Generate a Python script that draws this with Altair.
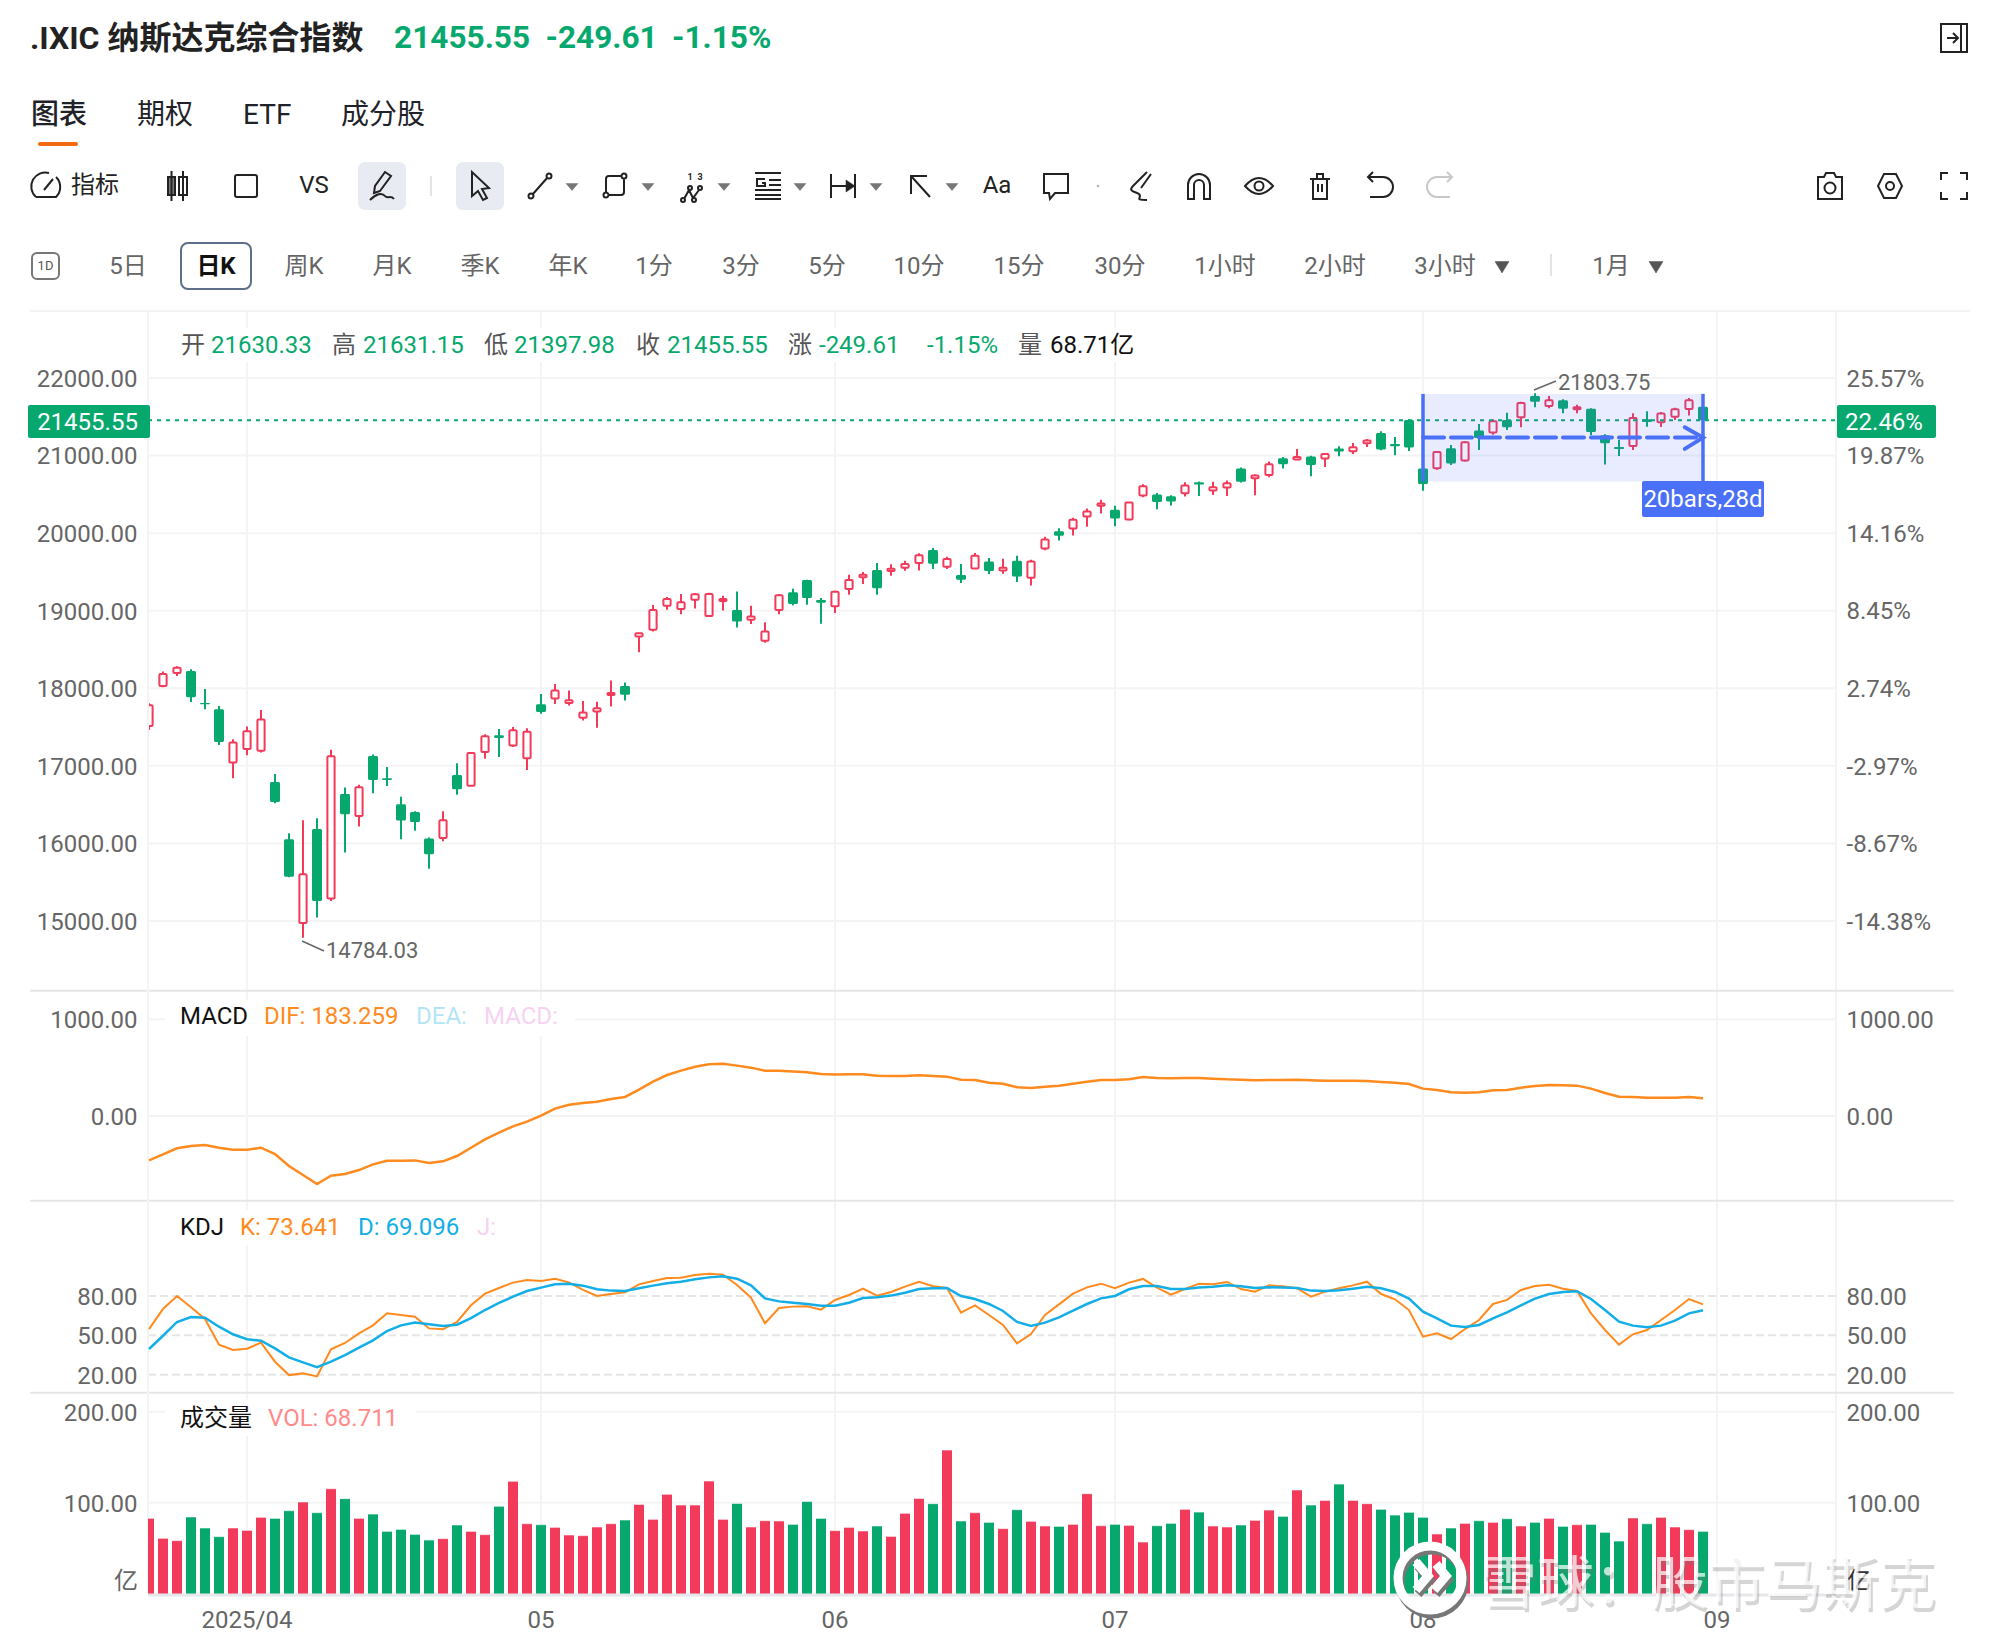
import altair as alt
import pandas as pd

# ---------- values ----------
opens = [17514,18030,18198,18223,17811,17729,17042,17218,17196,16793,16053,14975,16187,15289,16638,16354,
 17128,16840,16505,16406,16062,16071,16883,16745,17179,17394,17261,17098,17794,17867,17811,17620,
 17701,17912,18028,18669,18755,19065,19022,19142,18931,19125,19009,18884,18613,19009,19237,19396,
 19138,19056,19280,19430,19525,19512,19555,19615,19783,19568,19459,19545,19635,19520,19644,19425,
 19803,20026,20060,20215,20352,20300,20176,20485,20498,20476,20515,20656,20549,20588,20832,20708,
 20751,20965,20948,20987,20961,21090,21055,21158,21291,21150,21459,20833,20837,21094,20936,21322,
 21296,21459,21493,21768,21639,21712,21596,21605,21262,21112,21124,21468,21429,21502,21601,21630.33]
closes = [17781,18185,18266,17884,17794,17308,17300,17446,17596,16535,15572,15602,15258,17123,16376,16724,
 16818,16818,16294,16277,15860,16298,16698,17166,17381,17360,17459,17441,17695,17970,17845,17689,
 17744,17938,17916,18708,19009,19150,19108,19211,19215,19150,18862,18927,18733,19198,19086,19163,
 19103,19245,19396,19464,19288,19542,19602,19714,19606,19667,19399,19708,19511,19554,19442,19635,
 19918,19966,20172,20279,20382,20189,20395,20605,20403,20408,20613,20626,20592,20643,20661,20742,
 20888,20888,20982,20879,21021,21051,21107,21193,21077,21120,21103,20635,21047,20897,21172,21227,
 21442,21365,21678,21695,21712,21605,21622,21305,21159,21086,21485,21433,21541,21596,21712,21455.55]
highs = [17807,18215,18284,18245,17991,17772,17343,17506,17721,16896,16131,16298,16324,17209,16720,16758,
 17145,16986,16603,16414,16075,16414,17033,17175,17407,17476,17501,17484,17927,18056,17970,17835,
 17826,18101,18075,18712,19073,19176,19215,19224,19232,19194,19249,19065,18850,19211,19284,19400,
 19163,19258,19464,19499,19615,19598,19645,19740,19808,19697,19601,19743,19678,19670,19708,19657,
 19953,20064,20197,20317,20429,20352,20399,20631,20519,20489,20656,20665,20661,20678,20845,20755,
 20922,20982,21085,20999,21034,21120,21163,21214,21313,21240,21468,20858,21056,21137,21184,21408,
 21468,21553,21695,21803.75,21768,21725,21656,21609,21275,21202,21545,21571,21562,21618,21742,21631.15]
lows = [17463,18013,18159,17824,17729,17270,16840,17136,17171,16518,15564,14784.03,15044,15258,15882,16217,
 16646,16741,16053,16165,15675,16028,16629,16737,17093,17115,17244,16947,17673,17798,17777,17585,
 17491,17766,17843,18463,18733,19013,18953,19030,18923,19004,18785,18828,18587,18953,19069,19077,
 18832,18970,19206,19344,19206,19452,19516,19520,19538,19538,19357,19537,19472,19477,19369,19326,
 19781,19906,19970,20082,20253,20090,20167,20463,20309,20356,20472,20480,20493,20480,20652,20489,
 20721,20832,20944,20734,20854,20991,21021,21111,21068,21004,21060,20545,20816,20880,20923,21073,
 21270,21330,21365,21622,21609,21545,21545,21262,20884,20996,21073,21373,21369,21459,21515,21397.98]
volumes = [83.0,61.1,58.5,84.5,72.4,62.9,72.4,69.8,84.1,83.0,91.4,100.9,89.2,115.5,104.6,83.0,
 87.7,68.7,70.9,65.4,59.2,60.7,75.7,68.7,65.1,96.2,123.6,77.1,76.0,73.1,64.7,64.0,
 73.5,77.1,81.2,98.3,81.9,109.3,97.6,97.6,123.9,81.9,99.4,73.5,80.4,80.1,76.4,101.6,
 83.0,69.5,73.1,69.1,74.6,63.2,88.5,104.9,99.1,157.9,80.1,89.2,78.6,71.7,92.5,79.7,
 74.6,74.2,76.4,110.0,74.9,76.4,75.3,57.0,74.9,77.5,92.9,89.9,74.6,73.5,75.7,80.8,
 92.1,85.2,114.1,97.6,102.7,120.6,102.7,99.1,92.9,86.6,89.6,84.1,65.8,72.4,77.5,80.4,
 78.6,82.6,74.6,78.6,83.0,74.2,76.0,76.4,67.6,58.1,83.4,77.1,84.1,73.5,70.6,68.711]
dif = [-459,-397,-334,-310,-300,-328,-348,-348,-328,-393,-517,-610,-703,-617,-600,-559,
 -500,-462,-462,-459,-486,-469,-414,-328,-241,-172,-107,-59,3,76,117,134,
 148,176,197,272,355,424,469,510,534,541,521,500,469,469,459,452,
 434,428,431,431,417,414,414,421,414,407,376,372,345,334,297,290,
 303,314,334,355,372,372,379,403,393,390,393,393,386,379,376,369,
 372,372,376,369,365,365,365,362,352,345,331,283,269,245,241,245,
 266,269,293,310,321,317,314,283,238,200,197,190,190,190,197,183.259]
k_line = [54.8,70.1,80,71.4,62.5,42.9,38.8,39.8,44.4,29.9,19.7,21.0,18.7,39.3,44.2,51.5,
 57.6,66.8,65.5,64.2,55.3,54.6,60.2,72.9,81.8,86.1,90.2,92.2,91.4,93.2,90.4,84.6,
 80.0,81.5,82.8,88.9,91.4,93.7,94.0,96.0,97.0,96.3,88.4,78.7,59.2,70.8,71.9,72.1,
 69.6,77.0,80.8,85.6,80.3,83.1,87.1,90.9,87.4,86.1,67.3,72.9,65.5,57.9,43.9,51.0,
 65.5,73.6,81.8,86.6,89.4,85.9,90.2,93.0,86.4,81.0,85.3,89.4,88.9,90.7,85.3,83.3,
 88.1,87.4,85.9,79.5,83.3,85.9,88.1,90.9,81.5,77.5,69.3,49.0,51.5,47.2,54.8,61.7,
 73.9,77.0,84.6,87.6,88.6,85.6,83.8,66.8,54.1,42.9,50.8,54.1,61.7,69.3,77.7,73.641]
d_line = [39.6,49.7,60.2,64.0,63.5,56.6,50.8,47.0,45.9,40.1,33.2,29.4,25.8,29.9,35.0,40.6,
 46.2,53.3,57.6,59.7,58.4,57.1,58.1,63.2,69.3,74.7,79.5,83.8,86.4,88.9,89.4,87.9,
 85.1,84.1,83.8,85.9,87.9,89.7,90.9,92.7,94.2,95.0,93.2,88.1,78.2,75.9,74.9,73.9,
 72.6,72.6,74.9,78.5,79.0,80.3,82.5,85.3,85.9,86.1,80.0,77.7,73.9,68.6,60.2,57.1,
 59.7,63.7,68.8,73.9,78.2,80.0,85.1,87.6,87.6,85.3,85.3,86.4,87.1,88.1,87.4,86.1,
 86.6,86.4,86.1,84.1,83.8,84.3,85.6,87.1,85.9,83.1,78.0,68.1,63.0,57.4,56.4,57.9,
 63.0,67.5,72.9,78.0,81.5,83.1,83.6,77.7,69.3,60.4,57.4,56.1,57.4,61.2,66.8,69.096]

price_ticks = [15000,16000,17000,18000,19000,20000,21000,22000]
pct_ticks = [-14.38,-8.67,-2.97,2.74,8.45,14.16,19.87,25.57]
macd_ticks = [0,1000]
kdj_ticks = [20,50,80]
vol_ticks = [100,200]
month_pos = [7,28,49,69,91,112]
month_labels = ["2025/04","05","06","07","08","09"]
last_price = 21455.55
box_price = [20665,21795]
box_bars = [91,111]
arrow_price = 21232
arrow_head_i = [109.7,111,109.7]
arrow_head_p = [21365,21232,21086]

tabs = ["图表","期权","ETF","成分股"]
periods = ["5日","周K","月K","季K","年K","1分","3分","5分","10分","15分","30分","1小时","2小时","3小时","1月"]
ohlc_names = ["开","高","低","收","涨","量"]
ohlc_vals = ["21630.33","21631.15","21397.98","21455.55","-249.61","-1.15%","68.71亿"]

# ---------- styles ----------
FONT = "Roboto, 'Noto Sans CJK SC', sans-serif"
RED, GREEN, BLUE = "#f23a5a", "#07a86e", "#4a70f7"
GRID = "#f4f4f5"
GRAY = "#666666"
ORANGE, SKY = "#ff8a1e", "#13aee6"
TEXT_DY = 1.3

def px(v): return v - 8

XS = alt.Scale(domain=[-1/14, 1687/14], range=[140, 1828], clamp=True, nice=False, zero=False)
def X(f, **k): return alt.X(f, type="quantitative", scale=XS, axis=k.pop("axis", None), **k)
def X2(f): return alt.X2(f)

def yscale(dom, pxlow, pxhigh):
    return alt.Scale(domain=dom, range=[px(pxlow), px(pxhigh)], nice=False, zero=False)
SP = yscale([15000,22000], 921, 378)
SPCT = yscale([-14.38,25.57], 921, 378)
SM = yscale([0,1000], 1116, 1019.3)
SK = yscale([20,80], 1374.7, 1296)
SV = yscale([0,200], 1594, 1411.7)

one = pd.DataFrame({"a":[0]})
df = pd.DataFrame(dict(i=list(range(len(opens))), o=opens, c=closes, h=highs, l=lows, v=volumes,
                       dif=dif, k=k_line, d=d_line))
df["up"] = df.c >= df.o
df["x0r"] = df.i - 3.6/14; df["x1r"] = df.i + 3.6/14
df["x0g"] = df.i - 5/14;   df["x1g"] = df.i + 5/14
up = df[df.up]; dn = df[~df.up]

layers = []

def T(s, x, y, size=24, color=GRAY, align="left", weight=400, opacity=1.0, bl="middle"):
    layers.append(alt.Chart(one).mark_text(text=s, font=FONT, fontSize=size, color=color, align=align,
        baseline=bl, fontWeight=weight, opacity=opacity).encode(x=alt.value(px(x)), y=alt.value(px(y + TEXT_DY))))

def R(x0, x1, y0, y1, fill="white", radius=0, stroke=None, sw=0, opacity=1.0):
    kw = dict(fill=fill, opacity=opacity)
    if radius: kw["cornerRadius"] = radius
    if stroke: kw.update(stroke=stroke, strokeWidth=sw)
    layers.append(alt.Chart(one).mark_rect(**kw).encode(x=alt.value(px(x0)), x2=alt.value(px(x1)),
        y=alt.value(px(y0)), y2=alt.value(px(y1))))

def L(x0, y0, x1, y1, color, w=2, dash=None):
    kw = dict(color=color, strokeWidth=w)
    if dash: kw["strokeDash"] = dash
    layers.append(alt.Chart(one).mark_rule(**kw).encode(x=alt.value(px(x0)), x2=alt.value(px(x1)),
        y=alt.value(px(y0)), y2=alt.value(px(y1))))

def ICON(path, x, y, color="#222222", fill=False, w=2):
    if fill:
        m = alt.Chart(one).mark_point(shape=path, size=4, filled=True, fill=color, stroke=color, strokeWidth=0.5, opacity=1)
    else:
        m = alt.Chart(one).mark_point(shape=path, size=4, filled=False, stroke=color, strokeWidth=w, opacity=1)
    layers.append(m.encode(x=alt.value(px(x)), y=alt.value(px(y))))

def circ(x, y, r):
    return f"M{x-r},{y} a{r},{r} 0 1,0 {2*r},0 a{r},{r} 0 1,0 {-2*r},0 "

# ---------- grid ----------
L(30, 311, 1970, 311, "#f3f3f3", 2)
months = pd.DataFrame({"i": month_pos, "label": month_labels})
layers.append(alt.Chart(months).mark_rule(color=GRID, strokeWidth=2).encode(
    x=X("i"), y=alt.value(px(311)), y2=alt.value(px(1593))))
layers.append(alt.Chart(months).mark_text(font=FONT, fontSize=24, color=GRAY, align="center", baseline="middle").encode(
    x=X("i"), y=alt.value(px(1621)), text=alt.Text("label:N")))
L(1836, 311, 1836, 1593, GRID, 2)

NUMF = "replace(format(datum.value,'.2f'),'\u2212','-')"
def axis(ticks, side, fmt=None):
    kw = dict(values=ticks, domain=False, ticks=False, grid=False, title=None, labelFont=FONT, labelFontSize=24,
              labelColor=GRAY, labelOverlap=False, labelBound=False, labelFlush=False, labelOffset=TEXT_DY)
    if side == "left":
        kw.update(orient="left", offset=-140, labelPadding=11)
    else:
        kw.update(orient="right", offset=-152, labelPadding=10)
    kw["labelExpr"] = fmt or NUMF
    return alt.Axis(**kw)

def hgrid(ticks, scale, dash=None, color=GRID, rticks=None, rscale=None, rfmt=None):
    kw = dict(color=color, strokeWidth=2)
    if dash: kw["strokeDash"] = dash
    layers.append(alt.Chart(pd.DataFrame({"v": ticks})).mark_rule(**kw).encode(
        y=alt.Y("v:Q", scale=scale, axis=axis(ticks, "left")),
        x=alt.value(px(148)), x2=alt.value(px(1836))))
    rt = rticks or ticks
    layers.append(alt.Chart(pd.DataFrame({"v": rt})).mark_rule(opacity=0).encode(
        y=alt.Y("v:Q", scale=rscale or scale, axis=axis(rt, "right", rfmt)),
        x=alt.value(px(148)), x2=alt.value(px(1836))))

hgrid(price_ticks, SP, rticks=pct_ticks, rscale=SPCT, rfmt=NUMF + "+'%'")
hgrid(macd_ticks, SM)
hgrid(kdj_ticks, SK, dash=[8,4], color="#e6e6e6")
hgrid(vol_ticks, SV)

# panel dividers
for yy in (990.7, 1200.7, 1392.7):
    L(30, yy, 1954, yy, "#e6e6e6", 2)

# ---------- candles ----------
def Yp(f): return alt.Y(f, type="quantitative", scale=SP, axis=None)
layers.append(alt.Chart(up).mark_rule(color=RED, strokeWidth=2).encode(x=X("i"), y=Yp("l"), y2=alt.Y2("h")))
layers.append(alt.Chart(dn).mark_rule(color=GREEN, strokeWidth=2).encode(x=X("i"), y=Yp("l"), y2=alt.Y2("h")))
layers.append(alt.Chart(up).mark_rect(fill="white", stroke=RED, strokeWidth=2, cornerRadius=1).encode(
    x=X("x0r"), x2=X2("x1r"), y=Yp("o"), y2=alt.Y2("c")))
layers.append(alt.Chart(dn).mark_rect(fill=GREEN, cornerRadius=1.5).encode(
    x=X("x0g"), x2=X2("x1g"), y=Yp("o"), y2=alt.Y2("c")))
L(148, 311, 148, 1593, GRID, 2)

# last price line
layers.append(alt.Chart(pd.DataFrame({"p":[last_price]})).mark_rule(color=GREEN, strokeWidth=2, strokeDash=[4,5]).encode(
    y=Yp("p"), x=alt.value(px(148)), x2=alt.value(px(1836))))

# measuring box
bx = pd.DataFrame({"a":[box_bars[0]],"b":[box_bars[1]],"p0":[box_price[0]],"p1":[box_price[1]],"m":[arrow_price]})
layers.append(alt.Chart(bx).mark_rect(fill=BLUE, opacity=0.13).encode(x=X("a"), x2=X2("b"), y=Yp("p0"), y2=alt.Y2("p1")))
for f in ("a","b"):
    layers.append(alt.Chart(bx).mark_rule(color=BLUE, strokeWidth=3.5).encode(x=X(f), y=Yp("p0"), y2=alt.Y2("p1")))
layers.append(alt.Chart(bx).mark_rule(color=BLUE, strokeWidth=4, strokeDash=[21,7], strokeCap="round").encode(
    x=X("a"), x2=X2("b"), y=Yp("m")))
ah = pd.DataFrame({"i":arrow_head_i, "p":arrow_head_p, "n":[0,1,2]})
layers.append(alt.Chart(ah).mark_line(color=BLUE, strokeWidth=4, strokeCap="round").encode(
    x=X("i"), y=Yp("p"), order=alt.Order("n:Q")))
R(1642, 1764, 481, 517, fill=BLUE, radius=2)
T("20bars,28d", 1703, 499, 24, "white", "center")

# extremes
L(302, 941, 324, 951, GRAY, 1.5)
T("14784.03", 326, 950, 22)
L(1534, 390, 1556, 381, GRAY, 1.5)
T("21803.75", 1558, 382, 22)

# price tags
R(28, 150, 405, 438, fill=GREEN, radius=2)
T("21455.55", 87.5, 422, 24, "white", "center")
R(1837, 1936, 405, 438, fill=GREEN, radius=2)
T("22.46%", 1884, 422, 24, "white", "center")

# ---------- indicators ----------
layers.append(alt.Chart(df).mark_line(color=ORANGE, strokeWidth=2.5).encode(x=X("i"),
    y=alt.Y("dif:Q", scale=SM, axis=None)))
layers.append(alt.Chart(df).mark_line(color=ORANGE, strokeWidth=2).encode(x=X("i"),
    y=alt.Y("k:Q", scale=SK, axis=None)))
layers.append(alt.Chart(df).mark_line(color=SKY, strokeWidth=2.5).encode(x=X("i"),
    y=alt.Y("d:Q", scale=SK, axis=None)))
df0 = df.assign(z=0)
df0["vx0"] = df0.i - 5/14; df0["vx1"] = df0.i + 5/14
for sel, col in ((df0[df0.up], RED), (df0[~df0.up], GREEN)):
    layers.append(alt.Chart(sel).mark_rect(fill=col).encode(x=X("vx0"), x2=X2("vx1"),
        y=alt.Y("z:Q", scale=SV, axis=None), y2=alt.Y2("v")))
    layers.append(alt.Chart(sel).mark_rule(color="white", opacity=0.55, strokeWidth=1).encode(x=X("vx0"), x2=X2("vx1"),
        y=alt.Y("v:Q", scale=SV, axis=None)))
L(148, 1595, 1836, 1595, "#e6e7ea", 3)

# panel legends
R(165, 575, 1000, 1036); T("MACD", 180, 1016, 24, "#111111"); T("DIF: 183.259", 264, 1016, 24, ORANGE)
T("DEA:", 416, 1016, 24, "#b4e5f7"); T("MACD:", 484, 1016, 24, "#f8d2f2")
R(165, 500, 1210, 1245); T("KDJ", 180, 1227, 24, "#111111"); T("K: 73.641", 240, 1227, 24, ORANGE)
T("D: 69.096", 358, 1227, 24, SKY); T("J:", 477, 1227, 24, "#f8d2f2")
R(165, 416, 1400, 1436); T("成交量", 180, 1418, 24, "#111111"); T("VOL: 68.711", 268, 1418, 24, "#ff8a8a")
T("亿", 138, 1581, 24, GRAY, "right"); T("亿", 1847, 1581, 24, "#333333")

# info row
R(165, 1150, 328, 362)
for s, x in zip(ohlc_names, (181, 332, 484, 636, 788, 1018)):
    T(s, x, 344.5, 24, "#555555")
for s, x, c in zip(ohlc_vals, (211, 363, 514, 667, 819, 927, 1050), [GREEN]*6 + ["#111111"]):
    T(s, x, 344.5, 24, c)

# watermark
for dx, dy, c, op in ((2, 4, "#777777", 0.3), (0, 0, "#ffffff", 0.72)):
    T("雪球：股市马斯克", 1480+dx, 1585+dy, 57, c, "left", 400, op)
    ICON(circ(0,0,32) + "M-14,-16 L-2,-2 L-14,12 M6,-14 L16,-2 L4,12 M-8,22 C0,30 10,28 18,22", 1430+dx, 1578+dy, c, False, 9)

# ---------- page header ----------
T(".IXIC 纳斯达克综合指数", 30, 38, 32, "#222222", weight=700)
T("21455.55", 394, 38, 31.6, GREEN, weight=700)
T("-249.61", 545.5, 38, 31.6, GREEN, weight=700)
T("-1.15%", 672, 38, 31.6, GREEN, weight=700)
ICON("M-13,-14 H13 V14 H-13 Z M7,-14 V14 M-7,0 H3 M-1,-5 L4,0 L-1,5", 1954, 38, "#222222", False, 2)

for s, x, w in zip(tabs, (31, 137, 243, 341), (500, 400, 400, 400)):
    T(s, x, 114.5, 28, "#1f2329", weight=w)
R(38, 78, 142, 146, fill="#f26a12", radius=2)

# toolbar
TY = 186
ICON("M-10,11 H10 A14,14 0 0 0 10,-9 M-10,11 A14,14 0 0 1 3,-13 M-2,4 L7,-7", 46, TY)
T("指标", 71, TY-1, 24, "#222222")
ICON("M-9,-9 H-2 V9 H-9 Z", 177, TY, "#777777", True)
ICON("M-5.5,-15 V15 M-9,-9 H-2 V9 H-9 Z M6,-15 V15 M2,-9 H10 V9 H2 Z", 177, TY)
ICON("M-9,-11 H9 Q11,-11 11,-9 V9 Q11,11 9,11 H-9 Q-11,11 -11,9 V-9 Q-11,-11 -9,-11 Z", 246, TY)
T("VS", 314, TY-1, 24, "#222222", "center")
R(358, 406, 162, 210, fill="#e8ebf2", radius=7)
ICON("M-2,5 L-8,7 L-7,0 L3,-14 L9,-10 Z M-12,14 C-6,8 0,6 3,10 C5,13 9,9 12,13", 382, TY)
L(431, 176, 431, 196, "#e4e4e4", 2)
R(456, 504, 162, 210, fill="#e8ebf2", radius=7)
ICON("M-8,-14 L-8,10 L-2,5 L3,14 L7,12 L2,3 L9,2 Z", 480, TY)
ICON("M-7.5,8.5 L7.5,-8.5 " + circ(-9,10,2.5) + circ(9,-10,2.5), 540, TY)
ICON("M6,-10 H-6 Q-9,-10 -9,-7 V7 M-7,9 H6 Q9,9 9,6 V-7 " + circ(9,-10,2.5) + circ(-9,9,2.5), 615, TY)
ICON("M-8,9 L-3,0 L1,8 L7,0 " + circ(-9,10,2) + circ(-2,-2,2) + circ(2,10,2) + circ(8,-2,2), 692, TY+4)
T("1", 690, TY-10, 9, "#222222", "center", 700); T("3", 700, TY-10, 9, "#222222", "center", 700)
ICON("M-13,-13 H13 M-13,4 H13 M-13,9 H13 M-13,13 H13 M-3,-7 H-11 V0 H-3 V-3 H-6 M1,-6 H13 M1,-1 H13", 768, TY, w=2)
ICON("M-12,-12 V12 M12,-12 V12 M-12,0 H4", 843, TY)
ICON("M3,-6 L12,0 L3,6 Z", 843, TY, "#222222", True)
ICON("M-9,8 V-10 H7 M-9,-10 L10,11", 920, TY)
for xx in (572, 648, 724, 800, 876, 952):
    ICON("M-6,-3.5 H6 L0,3.5 Z", xx, TY+1, "#777777", True)
T("Aa", 997, TY-1, 24, "#222222", "center")
ICON("M-12,-12 H12 V7 H-1 L-6,13 L-7,7 H-12 Z", 1056, TY)
ICON(circ(0,0,1), 1098, TY, "#aaaaaa", True)
ICON("M8,-14 L-6,0 C-12,6 -2,6 0,8 C4,12 -6,14 8,14 M12,-12 L2,2", 1139, TY)
ICON("M-11,13 V-1 A11,11 0 0 1 11,-1 V13 H5 V-1 A5,5 0 0 0 -5,-1 V13 Z", 1199, TY)
ICON("M-14,0 Q0,-16 14,0 Q0,16 -14,0 Z " + circ(0,0,4.5), 1259, TY)
ICON("M-10,-7 H10 M-7,-7 V13 H7 V-7 M-3,-7 V-12 H3 V-7 M-2,-2 V6 M2,-2 V6", 1320, TY)
ICON("M-7,-14 L-12,-9 L-7,-4 M-12,-9 H3 A10,10 0 0 1 3,11 H-10", 1380, TY)
ICON("M7,-14 L12,-9 L7,-4 M12,-9 H-3 A10,10 0 0 0 -3,11 H10", 1440, TY, "#c8c8c8")
ICON("M-12,-9 H-6 L-4,-13 H4 L6,-9 H12 V13 H-12 Z " + circ(0,2,5.5), 1830, TY)
ICON("M-6,-12 L6,-12 L12,0 L6,12 L-6,12 L-12,0 Z " + circ(0,0,4), 1890, TY)
ICON("M-13,-6 V-13 H-6 M6,-13 H13 V-6 M13,6 V13 H6 M-6,13 H-13 V6", 1954, TY)

# period row
PY = 266
R(32, 59, 253, 279, fill="white", radius=5, stroke="#777777", sw=2)
T("1D", 45.5, PY-1, 13, "#555555", "center")
R(181, 251, 243, 289, fill="white", radius=7, stroke="#5f6f8a", sw=2)
T("日K", 216, PY, 24, "#111111", "center", 700)
for s, x in zip(periods, (128, 304, 392, 480, 568, 654, 741, 827, 919, 1019, 1120, 1225, 1335, 1445, 1611)):
    T(s, x, PY, 24, GRAY, "center")
ICON("M-7,-5.5 H7 L0,6 Z", 1502, PY+1, "#555555", True)
ICON("M-7,-5.5 H7 L0,6 Z", 1656, PY+1, "#555555", True)
L(1551, 254, 1551, 276, "#e4e4e4", 2)

chart = alt.layer(*layers).resolve_scale(y="independent").properties(
    width=1980, height=1630, padding=0, background="white",
    autosize=alt.AutoSizeParams(type="none")
).configure_view(stroke=None)

chart.save("out.html", embed_options={"renderer": "svg", "actions": False})
